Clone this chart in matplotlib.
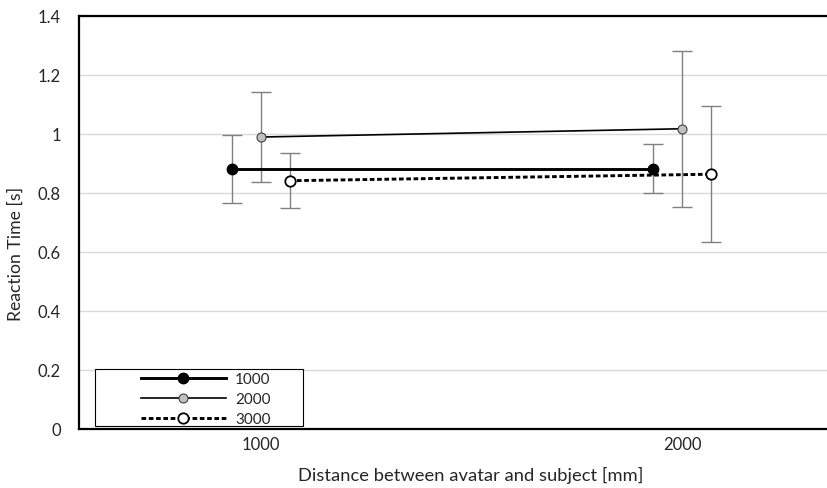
import matplotlib
matplotlib.use("Agg")
import matplotlib.pyplot as plt
from matplotlib.patches import Rectangle
import numpy as np

categories = ["1000", "2000"]
series_names = ["1000", "2000", "3000"]
means = {
    "1000": [0.881, 0.881],
    "2000": [0.989, 1.017],
    "3000": [0.841, 0.863],
}
errors = {
    "1000": [0.114, 0.083],
    "2000": [0.152, 0.265],
    "3000": [0.094, 0.231],
}
y_ticks = [0, 0.2, 0.4, 0.6, 0.8, 1.0, 1.2, 1.4]
y_tick_labels = ["0", "0.2", "0.4", "0.6", "0.8", "1", "1.2", "1.4"]

plt.rcParams['font.family'] = ['Lato', 'DejaVu Sans']

fig = plt.figure(figsize=(8.28, 4.89), dpi=100)
W, H = 828, 489
ax = fig.add_axes([79 / W, (489 - 430) / H, (828 - 79) / W, (430 - 16.7) / H])

xpos = np.arange(len(categories))
offsets = [-0.068, 0.0, 0.068]
styles = [
    dict(color="black", lw=2.1, ls="-", marker="o", ms=7.5, mfc="black", mec="black", mew=1.0),
    dict(color="black", lw=1.2, ls="-", marker="o", ms=6.5, mfc="#c0c0c0", mec="#404040", mew=0.8),
    dict(color="black", lw=2.1, ls=(0, (1.6, 0.9)), marker="o", ms=7.5, mfc="white", mec="black", mew=1.3),
]

handles = []
for name, off, st in zip(series_names, offsets, styles):
    x = xpos + off
    ax.errorbar(x, means[name], yerr=errors[name], fmt="none", ecolor="#808080",
                elinewidth=1.0, capsize=7, capthick=1.0, zorder=2)
    h, = ax.plot(x, means[name], label=name, zorder=3, **st)
    handles.append(h)

ax.set_xlim((79 - 261) / 421, (828 - 261) / 421)
ax.set_ylim(0, 1.4)
ax.set_yticks(y_ticks)
ax.set_yticklabels(y_tick_labels)
ax.set_xticks(xpos)
ax.set_xticklabels(categories)
ax.grid(axis="y", color="#d9d9d9", lw=1.0, zorder=0)
ax.set_axisbelow(True)
ax.tick_params(axis="y", length=0, pad=13, labelsize=12, colors="#262626")
ax.tick_params(axis="x", length=0, pad=5, labelsize=12, colors="#262626")
for s in ["left", "top", "bottom"]:
    ax.spines[s].set_linewidth(1.6)
    ax.spines[s].set_color("black")
ax.spines["right"].set_visible(False)

ax.set_ylabel("Reaction Time [s]", fontsize=12.7, color="#262626")
ax.yaxis.set_label_coords((24 - 79) / 749, (430 - 254) / 413.3)
ax.set_xlabel("Distance between avatar and subject [mm]", fontsize=13.2, color="#262626")
ax.xaxis.set_label_coords((471 - 79) / 749, (430 - 467) / 413.3)

# legend box
rect = Rectangle(((95 - 79) / 749, (430 - 427) / 413.3), 208 / 749, 57 / 413.3,
                 transform=ax.transAxes, fill=True, facecolor="white",
                 edgecolor="black", lw=0.8, zorder=4)
ax.add_patch(rect)
leg = ax.legend(handles=handles, loc="lower left",
                bbox_to_anchor=((139 - 79) / 749, (430 - 429) / 413.3),
                frameon=False, fontsize=11, handlelength=5.6, handletextpad=0.6,
                labelspacing=0.4, borderpad=0.1, borderaxespad=0.0)
leg.set_zorder(5)
for t in leg.get_texts():
    t.set_color("#262626")

fig.savefig("out.png", dpi=100)
